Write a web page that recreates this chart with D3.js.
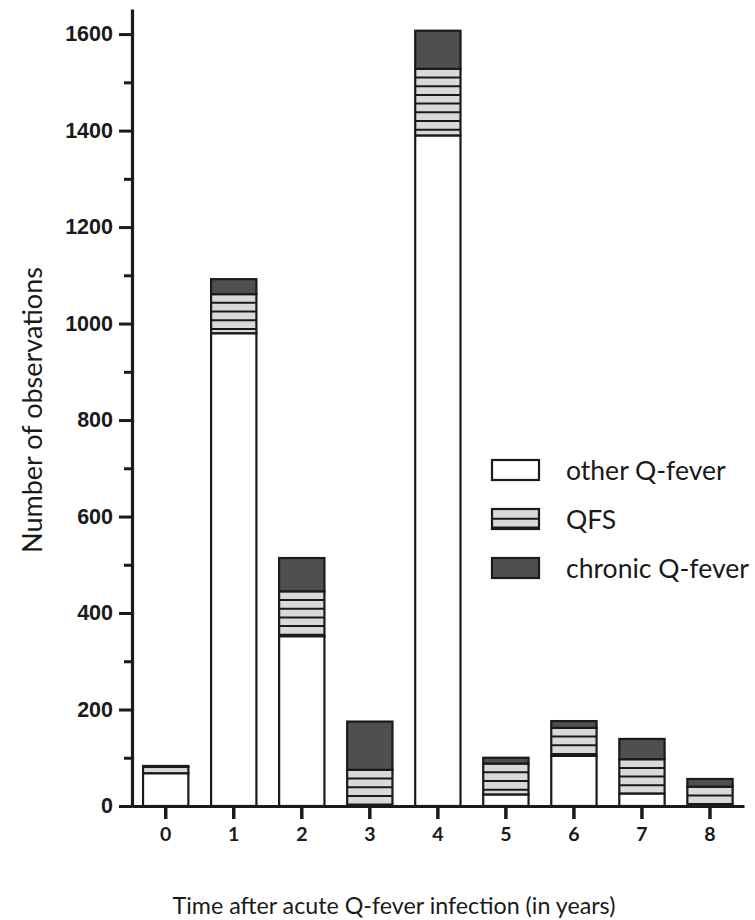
<!DOCTYPE html>
<html><head><meta charset="utf-8">
<script src="https://cdn.jsdelivr.net/npm/d3@7"></script>
<style>body{margin:0;background:#fff}</style></head>
<body><svg id="c" width="755" height="920"></svg>
<script>
// ---- data ----
const years = ["0","1","2","3","4","5","6","7","8"];
const otherQfever = [68, 980, 352, 0, 1390, 24, 104, 26, 0];
const qfs = [13, 81, 93, 75, 138, 64, 58, 71, 40];
const chronicQfever = [2, 31, 69, 100, 79, 12, 14, 42, 16];
const seriesNames = ["other Q-fever", "QFS", "chronic Q-fever"];
const yMajorTicks = [0, 200, 400, 600, 800, 1000, 1200, 1400, 1600];
const yMinorTicks = [100, 300, 500, 700, 900, 1100, 1300, 1500];
const yTitle = "Number of observations";
const xTitle = "Time after acute Q-fever infection (in years)";

// ---- setup ----
const svg = d3.select("#c");
const INK = "#1a1a1a";
const fills = {"other Q-fever": "#ffffff", "QFS": "#d9d9d9", "chronic Q-fever": "#4f4f4f"};
const stripeStep = 8.7;
const sans = "Lato, 'Open Sans', sans-serif";

const x = d3.scaleBand().domain(years).range([131.7, 744]).paddingInner(0.334).paddingOuter(0.167);
const y = d3.scaleLinear().domain([0, 1652]).range([806, 9]);

const rows = years.map((yr, i) => ({year: yr, "other Q-fever": otherQfever[i], "QFS": qfs[i], "chronic Q-fever": chronicQfever[i]}));
const stacked = d3.stack().keys(seriesNames)(rows);

// bars
const g = svg.append("g");
stacked.forEach(layer => {
  const key = layer.key;
  layer.forEach(d => {
    if (d[1] - d[0] <= 0) return;
    const x0 = x(d.data.year), w = x.bandwidth();
    const yTop = y(d[1]), yBot = y(d[0]);
    g.append("rect").attr("x", x0).attr("y", yTop).attr("width", w).attr("height", yBot - yTop)
      .attr("fill", fills[key]).attr("stroke", INK).attr("stroke-width", 2.2);
    if (key === "QFS") {
      d3.range(yTop + stripeStep, yBot - 1, stripeStep).forEach(ly => {
        g.append("line").attr("x1", x0).attr("x2", x0 + w).attr("y1", ly).attr("y2", ly)
          .attr("stroke", INK).attr("stroke-width", 2);
      });
    }
  });
});

// y axis
const yAxis = svg.append("g").attr("transform", "translate(132,0)")
  .call(d3.axisLeft(y).tickValues(yMajorTicks).tickSize(13).tickSizeOuter(0).tickPadding(6).tickFormat(d3.format("d")));
yAxis.select(".domain").attr("stroke", INK).attr("stroke-width", 3.2);
yAxis.selectAll(".tick line").attr("stroke", INK).attr("stroke-width", 3);
yAxis.selectAll(".tick text").attr("font-family", "'Liberation Sans', Arial, sans-serif")
  .attr("font-weight", "bold").attr("font-size", 21.5).attr("fill", INK);
const yMinor = svg.append("g").attr("transform", "translate(132,0)")
  .call(d3.axisLeft(y).tickValues(yMinorTicks).tickSize(8).tickSizeOuter(0).tickFormat(""));
yMinor.select(".domain").remove();
yMinor.selectAll(".tick line").attr("stroke", INK).attr("stroke-width", 3);

// x axis
const xAxis = svg.append("g").attr("transform", "translate(0,806)")
  .call(d3.axisBottom(x).tickSize(13).tickSizeOuter(0).tickPadding(8));
xAxis.select(".domain").attr("stroke", INK).attr("stroke-width", 3.2);
xAxis.selectAll(".tick line").attr("stroke", INK).attr("stroke-width", 3.5);
xAxis.selectAll(".tick text").attr("font-family", sans).attr("font-weight", "bold")
  .attr("font-size", 19.5).attr("fill", INK);

function fitWidth(sel, target) {
  const w = sel.node().getComputedTextLength();
  const fs = parseFloat(sel.attr("font-size"));
  sel.attr("font-size", fs * target / w);
}

// axis titles
const yt = svg.append("text").attr("transform", "translate(42,410) rotate(-90)")
  .attr("text-anchor", "middle").attr("font-family", sans).attr("font-size", 28).attr("fill", INK).text(yTitle);
fitWidth(yt, 286);
const xt = svg.append("text").attr("x", 394).attr("y", 914)
  .attr("text-anchor", "middle").attr("font-family", sans).attr("font-size", 28).attr("fill", INK).text(xTitle);
fitWidth(xt, 443);

// legend
const legendTop = 460, legendStep = 49;
seriesNames.forEach((name, i) => {
  const ty = legendTop + i * legendStep;
  svg.append("rect").attr("x", 492).attr("y", ty).attr("width", 47).attr("height", 20)
    .attr("fill", fills[name]).attr("stroke", INK).attr("stroke-width", 2.2);
  if (name === "QFS") {
    d3.range(ty + stripeStep + 1, ty + 20 - 1, stripeStep).forEach(ly => {
      svg.append("line").attr("x1", 492).attr("x2", 539).attr("y1", ly).attr("y2", ly)
        .attr("stroke", INK).attr("stroke-width", 2);
    });
  }
  svg.append("text").attr("class", "lg").attr("x", 566).attr("y", ty + 19.5)
    .attr("font-family", sans).attr("font-size", 26).attr("fill", INK).text(name);
});
const lastLg = svg.selectAll("text.lg").filter((d, i) => i === 2);
const w0 = lastLg.node().getComputedTextLength();
const lgSize = 26 * 183 / w0;
svg.selectAll("text.lg").attr("font-size", lgSize);
</script></body></html>
